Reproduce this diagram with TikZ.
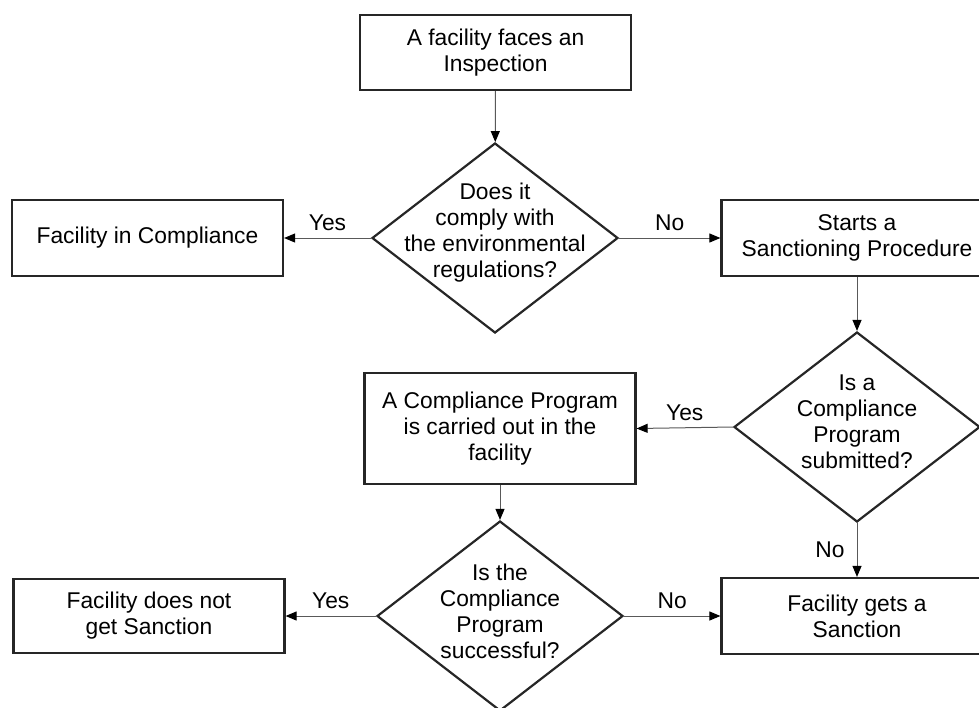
\documentclass[tikz,border=0pt]{standalone}
\usepackage{fontspec}
\setmainfont{Liberation Sans}
\usetikzlibrary{shapes.geometric,arrows.meta}

\begin{document}
\begin{tikzpicture}[x=0.5pt,y=-0.5pt,
  txt/.style={font=\fontsize{11.4}{13}\selectfont},
  box/.style={txt,draw=black!85,line width=1.1pt,rectangle,align=center,
    inner sep=0pt,minimum width=135.5pt},
  decision/.style={draw=black!85,line width=1.1pt,diamond,inner sep=0pt,
    minimum width=123pt,minimum height=95pt},
  flow/.style={draw=black!65,line width=0.5pt,
    -{Triangle[length=5.5pt,width=4.5pt,color=black]}},
  lbl/.style={txt,inner sep=3.5pt}]
\useasboundingbox (0,0) rectangle (979,707);

\node[box,minimum height=37.5pt] (start) at (495.5,52.5) {A facility faces an\\Inspection};
\node[decision,label={[txt,align=center,yshift=2.5pt]center:{Does it\\comply with\\the environmental\\regulations?}}] (q1) at (495,238) {};
\node[box,minimum height=38pt] (ok) at (147.5,238) {Facility in Compliance};
\node[box,minimum height=38pt] (proc) at (857,238) {Starts a\\Sanctioning Procedure};
\node[decision,label={[txt,align=center,yshift=2.5pt]center:{Is a\\Compliance\\Program\\submitted?}}] (q2) at (857,427) {};
\node[box,minimum height=55.5pt] (prog) at (500,428.5) {A Compliance Program\\is carried out in the\\facility};
\node[decision,label={[txt,align=center,yshift=2.5pt]center:{Is the\\Compliance\\Program\\successful?}}] (q3) at (500,616) {};
\node[box,minimum height=37pt] (nosanc) at (149,616) {Facility does not\\get Sanction};
\node[box,minimum height=38pt] (sanc) at (857,616) {Facility gets a\\Sanction};

\draw[flow] (start) -- (q1);
\draw[flow] (q1.west) -- node[lbl,above] {Yes} (ok.east);
\draw[flow] (q1.east) -- node[lbl,above] {No} (proc.west);
\draw[flow] (proc) -- (q2);
\draw[flow] (q2.west) -- node[lbl,above] {Yes} (prog.east);
\draw[flow] (q2.south) -- node[lbl,left,inner sep=6pt] {No} (sanc.north);
\draw[flow] (prog) -- (q3);
\draw[flow] (q3.west) -- node[lbl,above] {Yes} (nosanc.east);
\draw[flow] (q3.east) -- node[lbl,above] {No} (sanc.west);
\end{tikzpicture}
\end{document}
